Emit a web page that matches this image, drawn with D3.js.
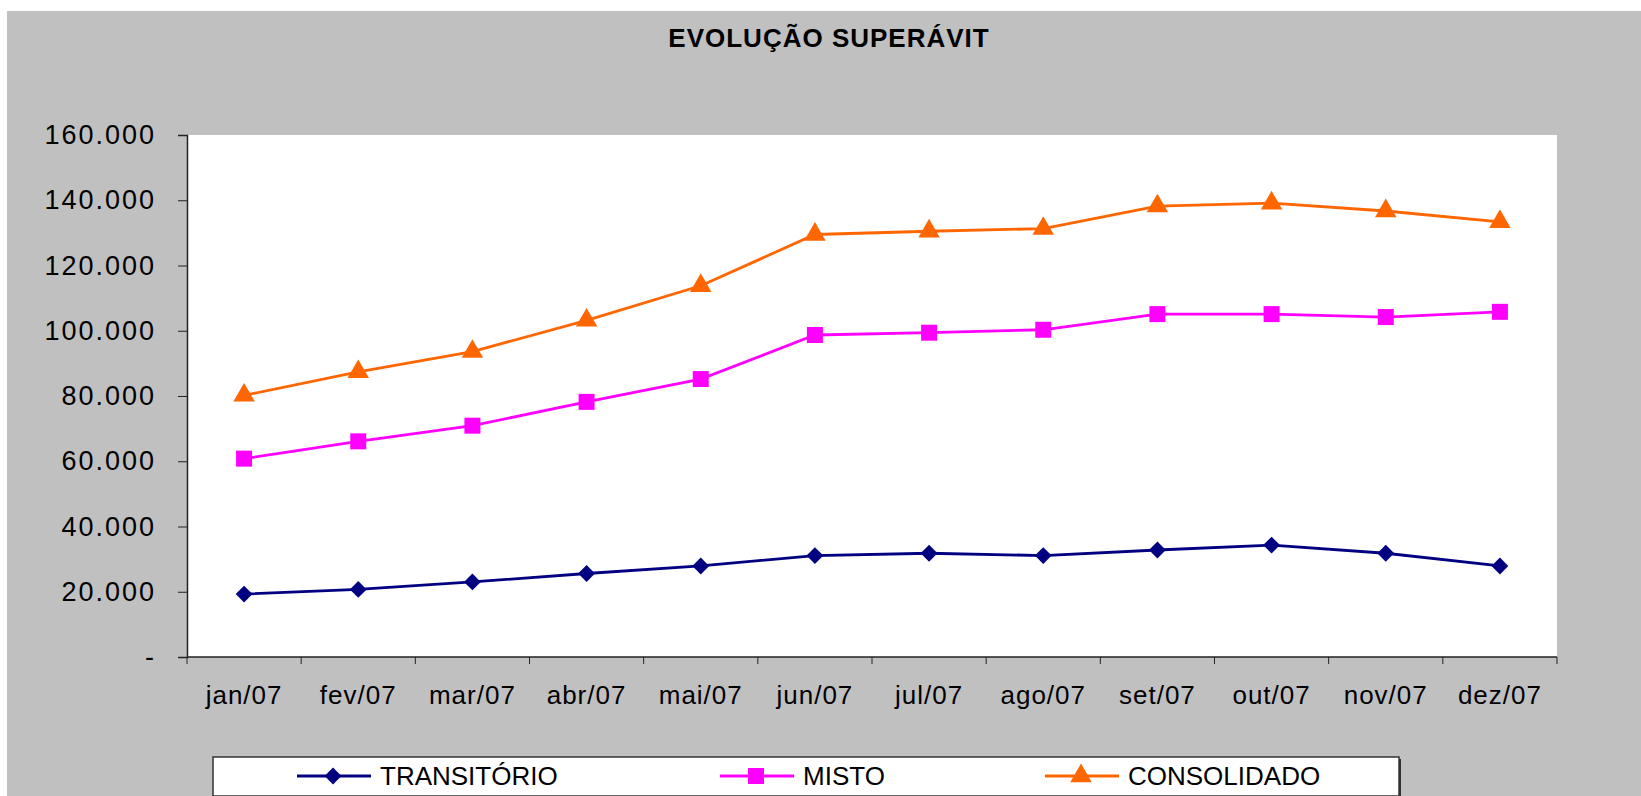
<!DOCTYPE html>
<html>
<head>
<meta charset="utf-8">
<script src="https://cdn.jsdelivr.net/npm/d3@7"></script>
<style>
  body { margin: 0; background: #fff; }
  svg { display: block; font-family: "Liberation Sans", Arial, sans-serif; }
</style>
</head>
<body>
<div id="chart"></div>
<script>
var width = 1641, height = 796;

// data
var months = ["jan/07", "fev/07", "mar/07", "abr/07", "mai/07", "jun/07",
              "jul/07", "ago/07", "set/07", "out/07", "nov/07", "dez/07"];
var transitorio = [19300, 20700, 23000, 25600, 27900, 31100, 31800, 31100, 32800, 34300, 31800, 27900];
var misto = [60800, 66100, 70900, 78200, 85200, 98700, 99400, 100300, 105100, 105100, 104200, 105800];
var consolidado = [80200, 87400, 93600, 103200, 113800, 129500, 130500, 131300, 138200, 139100, 136700, 133400];
var yTicks = [0, 20000, 40000, 60000, 80000, 100000, 120000, 140000, 160000];
var seriesNames = ["TRANSITÓRIO", "MISTO", "CONSOLIDADO"];

var series = [
  { name: seriesNames[0], values: transitorio, color: "#000080", symbol: d3.symbolDiamond2, size: 180 },
  { name: seriesNames[1], values: misto, color: "#ff00ff", symbol: d3.symbolSquare, size: 256 },
  { name: seriesNames[2], values: consolidado, color: "#ff6600", symbol: d3.symbolTriangle, size: 200 }
];

var plot = { left: 187, right: 1557, top: 135, bottom: 657 };

var svg = d3.select("#chart").append("svg")
    .attr("width", width)
    .attr("height", height);

// gray chart area
svg.append("rect")
    .attr("x", 7).attr("y", 11)
    .attr("width", width - 7).attr("height", height - 11)
    .attr("fill", "#c0c0c0");

// white plot area
svg.append("rect")
    .attr("x", plot.left).attr("y", plot.top)
    .attr("width", plot.right - plot.left).attr("height", plot.bottom - plot.top)
    .attr("fill", "#fff");

svg.append("text")
    .attr("x", 829)
    .attr("y", 47)
    .attr("text-anchor", "middle")
    .style("font-size", "26px")
    .style("font-weight", "bold")
    .style("letter-spacing", "1px")
    .text("EVOLUÇÃO SUPERÁVIT");

var x = d3.scaleBand()
    .domain(months)
    .range([plot.left, plot.right]);

var y = d3.scaleLinear()
    .domain([0, 160000])
    .range([plot.bottom, plot.top]);

var loc = d3.formatLocale({ decimal: ",", thousands: ".", grouping: [3], currency: ["R$", ""] });
var fmt = loc.format(",.0f");

// y axis
var yAxis = d3.axisLeft(y)
    .tickValues(yTicks)
    .tickSize(9)
    .tickPadding(22)
    .tickFormat(function (d) { return d === 0 ? "-" : fmt(d); });

var gy = svg.append("g")
    .attr("transform", "translate(" + plot.left + ",0)")
    .call(yAxis);
gy.select(".domain").attr("stroke", "#222").attr("stroke-width", 1.5);
gy.selectAll(".tick line").attr("stroke", "#222");
gy.selectAll(".tick text")
    .attr("fill", "#000")
    .style("font-size", "27px")
    .style("letter-spacing", "2px")
    .attr("font-family", null);

// x axis, ticks on the band edges
var gx = svg.append("g")
    .attr("transform", "translate(0," + plot.bottom + ")");
gx.append("line")
    .attr("x1", plot.left).attr("x2", plot.right)
    .attr("stroke", "#222").attr("stroke-width", 1.5);
var edges = months.map(function (m) { return x(m); }).concat([plot.right]);
gx.selectAll(".edge")
    .data(edges)
    .enter().append("line")
    .attr("x1", function (d) { return d; })
    .attr("x2", function (d) { return d; })
    .attr("y1", 0).attr("y2", 7)
    .attr("stroke", "#222");
gx.selectAll(".lbl")
    .data(months)
    .enter().append("text")
    .attr("x", function (d) { return x(d) + x.bandwidth() / 2; })
    .attr("y", 47)
    .attr("text-anchor", "middle")
    .style("font-size", "26px")
    .style("letter-spacing", "1px")
    .text(function (d) { return d; });

var line = d3.line()
    .x(function (d, i) { return x(months[i]) + x.bandwidth() / 2; })
    .y(function (d) { return y(d); });

series.forEach(function (s) {
  svg.append("path")
      .datum(s.values)
      .attr("d", line)
      .attr("fill", "none")
      .attr("stroke", s.color)
      .attr("stroke-width", 2.8);

  svg.selectAll(null)
      .data(s.values)
      .enter().append("path")
      .attr("transform", function (d, i) {
        return "translate(" + (x(months[i]) + x.bandwidth() / 2) + "," + y(d) + ")";
      })
      .attr("d", d3.symbol().type(s.symbol).size(s.size))
      .attr("fill", s.color);
});

// legend
var legend = svg.append("g");
legend.append("rect")
    .attr("x", 215).attr("y", 759)
    .attr("width", 1186).attr("height", 39)
    .attr("fill", "#333");
legend.append("rect")
    .attr("x", 213).attr("y", 757)
    .attr("width", 1186).attr("height", 39)
    .attr("fill", "#fff")
    .attr("stroke", "#333")
    .attr("stroke-width", 1.5);

var legendX = [297, 720, 1045];
series.forEach(function (s, i) {
  var lx = legendX[i], ly = 776;
  legend.append("line")
      .attr("x1", lx).attr("x2", lx + 74)
      .attr("y1", ly).attr("y2", ly)
      .attr("stroke", s.color)
      .attr("stroke-width", 2.8);
  legend.append("path")
      .attr("transform", "translate(" + (lx + 36) + "," + ly + ")")
      .attr("d", d3.symbol().type(s.symbol).size(s.size))
      .attr("fill", s.color);
  legend.append("text")
      .attr("x", lx + 83)
      .attr("y", ly + 9)
      .style("font-size", "26px")
      .text(s.name);
});
</script>
</body>
</html>
